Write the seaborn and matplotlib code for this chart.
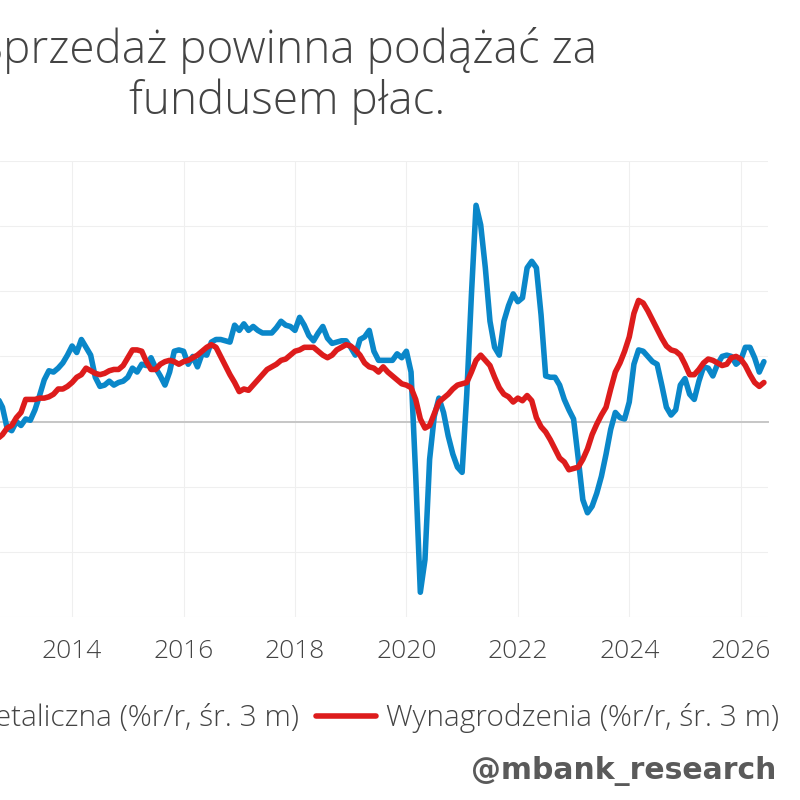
import numpy as np
import pandas as pd
import seaborn as sns
import matplotlib.pyplot as plt
from matplotlib.ticker import MultipleLocator, FormatStrFormatter

# monthly data, 2012-09 .. 2026-06
start = '2012-09-01'
sprzedaz = [1.8, 1.1, -0.5, -0.7,
            0.0, -0.3, 0.2, 0.1, 0.9, 2.0, 3.2, 3.9, 3.8, 4.1, 4.5, 5.1,
            5.8, 5.3, 6.3, 5.7, 5.1, 3.4, 2.7, 2.8, 3.1, 2.8, 3.0, 3.1,
            3.4, 4.1, 3.8, 4.4, 4.3, 4.9, 4.1, 3.5, 2.8, 3.8, 5.4, 5.5,
            5.4, 4.4, 5.0, 4.2, 5.2, 5.1, 6.1, 6.3, 6.3, 6.2, 6.1, 7.4,
            7.0, 7.5, 7.0, 7.3, 7.0, 6.8, 6.8, 6.8, 7.2, 7.7, 7.4, 7.3,
            7.0, 8.0, 7.4, 6.6, 6.2, 6.8, 7.3, 6.4, 6.0, 6.1, 6.2, 6.2,
            5.7, 5.1, 6.3, 6.5, 7.0, 5.4, 4.7, 4.7, 4.7, 4.7, 5.2, 4.9,
            5.4, 3.8, -4.1, -13.1, -10.6, -2.9, 0.4, 1.8, 0.7, -1.1, -2.5, -3.5,
            -3.9, 2.1, 9.7, 16.6, 15.1, 11.8, 7.7, 5.7, 5.1, 7.7, 8.9, 9.8,
            9.2, 9.5, 11.8, 12.3, 11.8, 8.2, 3.5, 3.4, 3.4, 2.8, 1.7, 0.9,
            0.2, -2.8, -6.0, -7.0, -6.5, -5.5, -4.2, -2.5, -0.6, 0.7, 0.3, 0.2,
            1.5, 4.4, 5.5, 5.4, 5.0, 4.6, 4.4, 2.8, 1.1, 0.5, 0.9, 2.8,
            3.3, 2.1, 1.7, 3.1, 4.2, 4.1, 3.5, 4.4, 5.0, 5.1, 5.0, 4.4,
            4.7, 5.7, 5.7, 4.9, 3.8, 4.6]
wynagrodzenia = [-1.3, -1.0, -0.5, -0.3,
                 0.3, 0.7, 1.7, 1.7, 1.7, 1.8, 1.8, 1.9, 2.1, 2.5, 2.5, 2.7,
                 3.0, 3.4, 3.6, 4.1, 3.9, 3.7, 3.6, 3.7, 3.9, 4.0, 4.0, 4.3,
                 4.9, 5.5, 5.5, 5.4, 4.6, 4.0, 4.0, 4.4, 4.6, 4.7, 4.6, 4.4,
                 4.6, 4.7, 4.9, 5.1, 5.4, 5.7, 5.9, 5.7, 5.0, 4.3, 3.6, 3.0,
                 2.3, 2.5, 2.4, 2.8, 3.2, 3.6, 4.0, 4.2, 4.4, 4.7, 4.8, 5.1,
                 5.4, 5.5, 5.7, 5.7, 5.7, 5.4, 5.1, 4.9, 5.1, 5.5, 5.7, 5.9,
                 5.8, 5.5, 5.1, 4.5, 4.2, 4.1, 3.8, 4.2, 3.8, 3.5, 3.2, 2.9,
                 2.8, 2.6, 1.7, 0.2, -0.5, -0.3, 0.6, 1.5, 1.8, 2.1, 2.5, 2.8,
                 2.9, 3.0, 3.8, 4.7, 5.1, 4.7, 4.3, 3.4, 2.6, 2.1, 1.9, 1.5,
                 1.8, 1.6, 2.0, 1.6, 0.3, -0.4, -0.8, -1.4, -2.1, -2.8, -3.1, -3.7,
                 -3.6, -3.5, -2.9, -2.1, -1.0, -0.2, 0.5, 1.1, 2.5, 3.8, 4.5, 5.4,
                 6.5, 8.3, 9.3, 9.1, 8.5, 7.8, 7.1, 6.4, 5.8, 5.5, 5.4, 5.1,
                 4.4, 3.6, 3.6, 4.0, 4.5, 4.8, 4.7, 4.5, 4.3, 4.4, 4.9, 5.0,
                 4.8, 4.3, 3.6, 3.0, 2.7, 3.0]
labels = ['Sprzedaż detaliczna (%r/r, śr. 3 m)', 'Wynagrodzenia (%r/r, śr. 3 m)']
colors = ['#0a87c9', '#dd1c1c']
title = 'Sprzedaż powinna podążać za\nfundusem płac.'
years = list(range(2014, 2027, 2))

dates = pd.date_range(start, periods=len(sprzedaz), freq='MS')
t = dates.year + (dates.month - 1) / 12
df = pd.DataFrame({'t': np.concatenate([t, t]),
                   'v': sprzedaz + wynagrodzenia,
                   'seria': [labels[0]] * len(t) + [labels[1]] * len(t)})

sns.set_style('white')
plt.rcParams['font.family'] = ['Open Sans', 'DejaVu Sans']
txt = '#444444'

fig = plt.figure(figsize=(8, 8), dpi=100)
ax = fig.add_axes([0.0, 1 - 617 / 800, 768 / 800, (617 - 161) / 800])
sns.lineplot(data=df, x='t', y='v', hue='seria', palette=colors, linewidth=4.0,
             ax=ax, legend=True)
ax.set_xlim(2012.706, 2026.49)
ax.set_ylim(-15, 20)
ax.yaxis.set_major_locator(MultipleLocator(5))
ax.set_xticks(years)
ax.grid(True, color='#efefef', linewidth=0.8)
ax.set_axisbelow(True)
for s in ['top', 'right', 'left']:
    ax.spines[s].set_visible(False)
ax.spines['bottom'].set_position(('data', 0))
ax.spines['bottom'].set_color('#c6c6c6')
ax.spines['bottom'].set_linewidth(1.4)
ax.spines['bottom'].set_zorder(1)
ax.tick_params(axis='x', direction='out', length=6, width=1, color='#c6c6c6',
               labelbottom=False)
ax.tick_params(axis='y', left=False, labelleft=False)
ax.set_xlabel('')
ax.set_ylabel('')

sec = ax.secondary_xaxis('bottom')
sec.set_xticks(years)
sec.xaxis.set_major_formatter(FormatStrFormatter('%d'))
sec.tick_params(length=0, pad=16, labelsize=19, labelcolor=txt)
sec.spines['bottom'].set_visible(False)
for lab in sec.get_xticklabels():
    lab.set_fontweight('light')

handles, _ = ax.get_legend_handles_labels()
ax.get_legend().remove()
leg = fig.legend(handles, labels, loc='center right', ncol=2,
                 bbox_to_anchor=(806 / 800, 1 - 718 / 800), frameon=False,
                 handlelength=2.0, handletextpad=0.33, columnspacing=0.6,
                 prop={'size': 21.5, 'weight': 'light'})
for lab in leg.get_texts():
    lab.set_color(txt)

fig.text(287 / 800, 1 - 76 / 800, title, ha='center', va='center',
         fontsize=33, fontweight='light', color=txt, linespacing=1.1)
fig.text(776 / 800, 1 - 771 / 800, '@mbank_research', ha='right', va='center',
         fontsize=21.5, fontweight='bold', color='#5a5a5a', family='DejaVu Sans')

fig.savefig('out.png', dpi=100, facecolor='white')
